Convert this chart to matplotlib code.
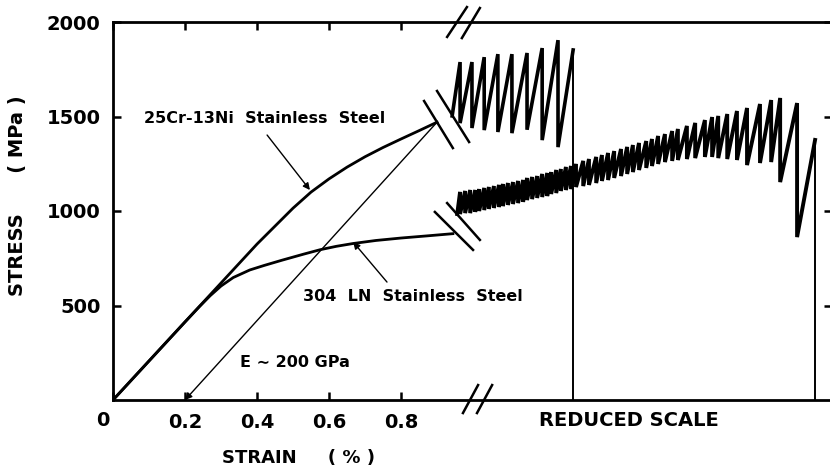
import matplotlib
matplotlib.use("Agg")
import matplotlib.pyplot as plt
import matplotlib.transforms as mtransforms

plt.rcParams['font.family'] = ['DejaVu Sans']
plt.rcParams['font.weight'] = 'bold'

# --- data (x axis in strain %, the part past the break is on a reduced scale) ---
xticks = [0, 0.2, 0.4, 0.6, 0.8]
xtick_labels = ['0', '0.2', '0.4', '0.6', '0.8']
yticks = [500, 1000, 1500, 2000]

# 25Cr-13Ni stainless steel, smooth part
cr_strain = [0, 0.2, 0.4, 0.45, 0.5, 0.55, 0.6, 0.65, 0.7, 0.75, 0.8, 0.85, 0.9]
cr_stress = [0, 413, 825, 920, 1015, 1100, 1170, 1232, 1287, 1336, 1381, 1425, 1470]

# 304 LN stainless steel, smooth part
ln_strain = [0, 0.2, 0.24, 0.27, 0.3, 0.334, 0.38, 0.42, 0.47, 0.53, 0.575, 0.62,
             0.667, 0.73, 0.8, 0.87, 0.944]
ln_stress = [0, 413, 494, 552, 603, 648, 688, 712, 740, 772, 795, 813,
             828, 844, 857, 868, 880]

# unloading line, E ~ 200 GPa
e_strain = [0.9, 0.2]
e_stress = [1470, 0]

# serrations (reduced scale): start point, tooth position, peak, value after the drop
cr_start = (0.942, 1503)
cr_tooth_x = [0.964, 0.997, 1.031, 1.069, 1.108, 1.150, 1.192, 1.236, 1.278]
cr_tooth_hi = [1788, 1788, 1814, 1830, 1830, 1836, 1862, 1904, 1852]
cr_tooth_lo = [1465, 1439, 1428, 1418, 1412, 1430, 1375, 1338, 0]

ln_start = (0.956, 984)
ln_tooth_x = [0.964, 0.978, 0.992, 1.006, 1.017, 1.031, 1.044, 1.058, 1.072, 1.083,
              1.097, 1.111, 1.125, 1.139, 1.150, 1.164, 1.178, 1.192, 1.206, 1.217,
              1.231, 1.244, 1.258, 1.272, 1.286, 1.306, 1.322, 1.342, 1.358, 1.375,
              1.392, 1.411, 1.428, 1.444, 1.461, 1.481, 1.497, 1.514, 1.533, 1.553,
              1.569, 1.594, 1.617, 1.644, 1.664, 1.681, 1.706, 1.733, 1.761, 1.797,
              1.828, 1.853, 1.900, 1.950]
ln_tooth_hi = [1101, 1106, 1111, 1111, 1116, 1122, 1127, 1132, 1138, 1143,
               1148, 1153, 1159, 1164, 1175, 1180, 1185, 1196, 1201, 1206,
               1217, 1222, 1233, 1238, 1249, 1265, 1275, 1286, 1296, 1307,
               1317, 1328, 1339, 1349, 1360, 1370, 1381, 1397, 1407, 1423,
               1434, 1450, 1466, 1481, 1497, 1503, 1513, 1529, 1545, 1566,
               1587, 1598, 1571, 1376]
ln_tooth_lo = [984, 989, 989, 995, 1000, 1005, 1011, 1016, 1021, 1026,
               1032, 1037, 1042, 1048, 1058, 1063, 1069, 1074, 1079, 1090,
               1095, 1106, 1111, 1116, 1127, 1132, 1138, 1148, 1159, 1164,
               1175, 1185, 1196, 1206, 1217, 1228, 1238, 1249, 1259, 1265,
               1270, 1275, 1280, 1286, 1286, 1280, 1275, 1270, 1243, 1254,
               1259, 1153, 862, 0]

# break marks on the curves and on the axis: ((x0, x1), (y0, y1))
curve_breaks = [((0.864, 0.944), (1582, 1333)), ((0.900, 0.989), (1635, 1365)),
                ((0.894, 1.000), (995, 794)), ((0.928, 1.019), (1042, 847))]
axis_breaks = [((0.928, 0.983), (1921, 2079)), ((0.969, 1.019), (1915, 2074)),
               ((0.972, 1.014), (-69, 79)), ((1.011, 1.053), (-69, 79))]


def sawtooth(start, xs, hi, lo):
    px, py = [start[0]], [start[1]]
    for x, h, l in zip(xs, hi, lo):
        px += [x, x]
        py += [h, l]
    return px, py


fig = plt.figure(figsize=(8.3, 4.71), dpi=100)
ax = fig.add_axes([113 / 830, 71 / 471, 719 / 830, 378 / 471])
ax.set_xlim(0, 1.997)
ax.set_ylim(0, 2000)

for side in ['left', 'top', 'bottom']:
    ax.spines[side].set_linewidth(2)
ax.spines['right'].set_visible(False)

ax.tick_params(direction='in', length=6, width=1.8, top=True, right=True,
               labelsize=14, pad=9)
ax.set_xticks(xticks)
ax.set_xticklabels(xtick_labels, fontweight='bold')
ax.set_yticks(yticks)
ax.set_yticklabels([str(v) for v in yticks], fontweight='bold')
zero = ax.get_xticklabels()[0]
zero.set_transform(zero.get_transform()
                   + mtransforms.ScaledTranslation(-0.1, 0.02, fig.dpi_scale_trans))

# smooth curves
ax.plot(cr_strain, cr_stress, color='black', lw=2)
ax.plot(ln_strain, ln_stress, color='black', lw=2)

# serrated parts
sx, sy = sawtooth(cr_start, cr_tooth_x, cr_tooth_hi, cr_tooth_lo)
ax.plot(sx[:-1], sy[:-1], color='black', lw=2.6, solid_joinstyle='miter')
ax.plot(sx[-2:], sy[-2:], color='black', lw=1.4)
sx, sy = sawtooth(ln_start, ln_tooth_x, ln_tooth_hi, ln_tooth_lo)
ax.plot(sx[:-1], sy[:-1], color='black', lw=2.8, solid_joinstyle='miter')
ax.plot(sx[-2:], sy[-2:], color='black', lw=1.4)

for xs, ys in curve_breaks:
    ax.plot(xs, ys, color='black', lw=1.8)
for xs, ys in axis_breaks:
    ax.plot(xs, ys, color='black', lw=1.8, clip_on=False)

# unloading line with arrow head at 0.2 %
ax.annotate('', xy=(e_strain[1], e_stress[1]), xytext=(e_strain[0], e_stress[0]),
            arrowprops=dict(arrowstyle='-|>', color='black', lw=1,
                            mutation_scale=10, shrinkA=0, shrinkB=0))

arrow = dict(arrowstyle='-|>', color='black', lw=1, mutation_scale=10,
             shrinkA=0, shrinkB=0)
ax.annotate('', xy=(0.547, 1111), xytext=(0.428, 1402), arrowprops=arrow)
ax.annotate('', xy=(0.667, 836), xytext=(0.761, 624), arrowprops=arrow)

ax.text(0.422, 1487, '25Cr-13Ni  Stainless  Steel', fontsize=11.5,
        ha='center', va='center')
ax.text(0.833, 545, '304  LN  Stainless  Steel', fontsize=11.5,
        ha='center', va='center')
ax.text(0.506, 196, 'E \u223c 200 GPa', fontsize=11.5, ha='center', va='center')
ax.text(1.433, -106, 'REDUCED SCALE', fontsize=14, ha='center', va='center',
        clip_on=False)

fig.text(298 / 830, 1 - 458 / 471, 'STRAIN     ( % )', fontsize=13,
         ha='center', va='center')
fig.text(18 / 830, 1 - 196 / 471, 'STRESS      ( MPa )', fontsize=14,
         rotation=90, ha='center', va='center')

fig.savefig('out.png', dpi=100)
